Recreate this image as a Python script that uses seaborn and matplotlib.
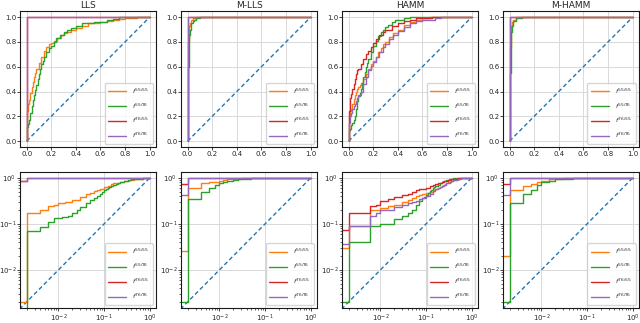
import matplotlib
matplotlib.use("Agg")
import matplotlib.pyplot as plt
import seaborn as sns

methods = ["LLS", "M-LLS", "HAMM", "M-HAMM"]
labels = [r"$f^{55/55}$", r"$f^{55/76}$", r"$f^{76/55}$", r"$f^{76/76}$"]
colors = ["C1", "C2", "C3", "C4"]

# ROC points (fpr, tpr); drawn as steps
lls_fpr_55_55 = [0, 0, 0.002, 0.004, 0.006, 0.008, 0.01, 0.014, 0.02, 0.03, 0.04, 0.05, 0.06, 0.07, 0.08, 0.1, 0.12, 0.14, 0.16, 0.18,
                 0.2, 0.22, 0.25, 0.28, 0.3, 0.33, 0.36, 0.4, 0.45, 0.5, 0.55, 0.6, 0.65, 0.7, 0.75, 0.8, 0.85, 0.9, 1.0]
lls_tpr_55_55 = [0, 0.002, 0.17, 0.2, 0.245, 0.265, 0.28, 0.3, 0.33, 0.39, 0.44, 0.48, 0.52, 0.55, 0.58, 0.63, 0.68, 0.73, 0.76, 0.78,
                 0.79, 0.81, 0.83, 0.86, 0.87, 0.88, 0.9, 0.91, 0.93, 0.95, 0.955, 0.96, 0.97, 0.98, 0.985, 0.99, 0.99, 1.0, 1.0]
lls_fpr_55_76 = [0, 0.002, 0.004, 0.006, 0.008, 0.012, 0.016, 0.02, 0.025, 0.03, 0.04, 0.05, 0.06, 0.07, 0.08, 0.09, 0.1, 0.11, 0.12, 0.13,
                 0.14, 0.16, 0.18, 0.2, 0.22, 0.24, 0.27, 0.3, 0.33, 0.36, 0.4, 0.45, 0.5, 0.55, 0.6, 0.65, 0.7, 0.75, 1.0]
lls_tpr_55_76 = [0, 0.07, 0.085, 0.11, 0.135, 0.14, 0.15, 0.17, 0.2, 0.23, 0.28, 0.33, 0.37, 0.41, 0.45, 0.5, 0.54, 0.58, 0.62, 0.65,
                 0.68, 0.72, 0.75, 0.77, 0.8, 0.83, 0.86, 0.88, 0.9, 0.91, 0.93, 0.95, 0.955, 0.96, 0.965, 0.975, 0.985, 1.0, 1.0]
lls_fpr_76_55 = [0, 0, 0.002, 1.0]
lls_tpr_76_55 = [0, 0.85, 1.0, 1.0]
lls_fpr_76_76 = [0, 0, 0.002, 1.0]
lls_tpr_76_76 = [0, 0.85, 1.0, 1.0]

mlls_fpr_55_55 = [0, 0, 0.002, 0.004, 0.006, 0.008, 0.01, 0.012, 0.015, 0.02, 0.025, 0.03, 0.04, 0.05, 0.07, 1.0]
mlls_tpr_55_55 = [0, 0.026, 0.6, 0.77, 0.8, 0.84, 0.87, 0.9, 0.93, 0.95, 0.97, 0.98, 0.99, 0.995, 1.0, 1.0]
mlls_fpr_55_76 = [0, 0, 0.002, 0.004, 0.006, 0.008, 0.01, 0.012, 0.015, 0.02, 0.025, 0.03, 0.04, 0.05, 0.07, 0.1, 1.0]
mlls_tpr_55_76 = [0, 0.002, 0.35, 0.5, 0.6, 0.7, 0.77, 0.82, 0.86, 0.9, 0.93, 0.95, 0.97, 0.98, 0.99, 1.0, 1.0]
mlls_fpr_76_55 = [0, 0, 0.002, 1.0]
mlls_tpr_76_55 = [0, 0.75, 1.0, 1.0]
mlls_fpr_76_76 = [0, 0, 0.002, 1.0]
mlls_tpr_76_76 = [0, 0.42, 1.0, 1.0]

hamm_fpr_55_55 = [0, 0, 0.002, 0.006, 0.01, 0.015, 0.02, 0.03, 0.04, 0.05, 0.06, 0.07, 0.08, 0.09, 0.1, 0.12, 0.14, 0.16, 0.18, 0.2,
                  0.22, 0.24, 0.26, 0.28, 0.3, 0.33, 0.36, 0.4, 0.45, 0.5, 0.55, 0.6, 0.65, 1.0]
hamm_tpr_55_55 = [0, 0.03, 0.09, 0.2, 0.22, 0.24, 0.26, 0.3, 0.34, 0.37, 0.4, 0.42, 0.44, 0.45, 0.47, 0.5, 0.54, 0.58, 0.62, 0.65,
                  0.68, 0.72, 0.75, 0.78, 0.8, 0.84, 0.87, 0.9, 0.94, 0.96, 0.98, 0.99, 1.0, 1.0]
hamm_fpr_55_76 = [0, 0, 0.002, 0.006, 0.01, 0.02, 0.03, 0.04, 0.05, 0.06, 0.07, 0.08, 0.09, 0.1, 0.11, 0.12, 0.13, 0.14, 0.15, 0.16,
                  0.18, 0.2, 0.22, 0.24, 0.26, 0.28, 0.3, 0.32, 0.35, 0.38, 0.4, 0.45, 0.5, 1.0]
hamm_tpr_55_76 = [0, 0.002, 0.04, 0.09, 0.1, 0.13, 0.15, 0.17, 0.2, 0.26, 0.32, 0.36, 0.39, 0.42, 0.47, 0.52, 0.56, 0.6, 0.63, 0.66,
                  0.72, 0.77, 0.81, 0.85, 0.88, 0.9, 0.92, 0.94, 0.96, 0.975, 0.98, 0.995, 1.0, 1.0]
hamm_fpr_76_55 = [0, 0, 0.002, 0.006, 0.008, 0.01, 0.015, 0.02, 0.03, 0.04, 0.05, 0.06, 0.07, 0.08, 0.1, 0.12, 0.14, 0.16, 0.18, 0.2,
                  0.22, 0.25, 0.28, 0.3, 0.35, 0.4, 0.45, 0.5, 0.55, 0.6, 0.68, 1.0]
hamm_tpr_76_55 = [0, 0.072, 0.17, 0.24, 0.26, 0.32, 0.35, 0.38, 0.42, 0.46, 0.5, 0.54, 0.57, 0.58, 0.62, 0.66, 0.7, 0.73, 0.76, 0.79,
                  0.82, 0.86, 0.88, 0.9, 0.93, 0.95, 0.97, 0.98, 0.99, 0.995, 1.0, 1.0]
hamm_fpr_76_76 = [0, 0, 0.002, 0.006, 0.008, 0.01, 0.02, 0.03, 0.04, 0.05, 0.06, 0.07, 0.08, 0.1, 0.12, 0.14, 0.16, 0.18, 0.2, 0.22,
                  0.25, 0.28, 0.3, 0.33, 0.36, 0.4, 0.45, 0.5, 0.55, 0.6, 0.7, 0.75, 1.0]
hamm_tpr_76_76 = [0, 0.037, 0.09, 0.15, 0.17, 0.2, 0.23, 0.26, 0.28, 0.3, 0.32, 0.35, 0.37, 0.4, 0.46, 0.52, 0.57, 0.61, 0.64, 0.68,
                  0.72, 0.76, 0.78, 0.82, 0.86, 0.89, 0.92, 0.95, 0.97, 0.98, 0.99, 1.0, 1.0]

mhamm_fpr_55_55 = [0, 0, 0.002, 0.004, 0.006, 0.008, 0.01, 0.015, 0.02, 0.03, 0.05, 1.0]
mhamm_tpr_55_55 = [0, 0.02, 0.55, 0.68, 0.75, 0.82, 0.87, 0.93, 0.96, 0.98, 1.0, 1.0]
mhamm_fpr_55_76 = [0, 0, 0.002, 0.004, 0.006, 0.008, 0.01, 0.015, 0.02, 0.03, 0.05, 0.1, 1.0]
mhamm_tpr_55_76 = [0, 0.002, 0.29, 0.45, 0.55, 0.7, 0.8, 0.88, 0.93, 0.97, 0.99, 1.0, 1.0]
mhamm_fpr_76_55 = [0, 0, 0.002, 1.0]
mhamm_tpr_76_55 = [0, 0.75, 1.0, 1.0]
mhamm_fpr_76_76 = [0, 0, 0.002, 1.0]
mhamm_tpr_76_76 = [0, 0.42, 1.0, 1.0]

curves = {
    "LLS": [(lls_fpr_55_55, lls_tpr_55_55), (lls_fpr_55_76, lls_tpr_55_76),
            (lls_fpr_76_55, lls_tpr_76_55), (lls_fpr_76_76, lls_tpr_76_76)],
    "M-LLS": [(mlls_fpr_55_55, mlls_tpr_55_55), (mlls_fpr_55_76, mlls_tpr_55_76),
              (mlls_fpr_76_55, mlls_tpr_76_55), (mlls_fpr_76_76, mlls_tpr_76_76)],
    "HAMM": [(hamm_fpr_55_55, hamm_tpr_55_55), (hamm_fpr_55_76, hamm_tpr_55_76),
             (hamm_fpr_76_55, hamm_tpr_76_55), (hamm_fpr_76_76, hamm_tpr_76_76)],
    "M-HAMM": [(mhamm_fpr_55_55, mhamm_tpr_55_55), (mhamm_fpr_55_76, mhamm_tpr_55_76),
               (mhamm_fpr_76_55, mhamm_tpr_76_55), (mhamm_fpr_76_76, mhamm_tpr_76_76)],
}

sns.set_style("ticks", {"axes.grid": True, "grid.color": ".85", "axes.edgecolor": ".1"})

fig, axes = plt.subplots(2, 4, figsize=(6.4, 3.23), dpi=100)

for col, name in enumerate(methods):
    for row in range(2):
        ax = axes[row, col]
        # chance line
        sns.lineplot(x=[0, 1], y=[0, 1], ax=ax, color="C0", linestyle=(0, (3, 2)), lw=1)
        for (fpr, tpr), lab, c in zip(curves[name], labels, colors):
            sns.lineplot(x=fpr, y=tpr, ax=ax, color=c, label=lab, estimator=None,
                         sort=False, drawstyle="steps-post", lw=1)
        if row == 1:
            ax.set_xscale("log")
            ax.set_yscale("log")
            ax.tick_params(which="minor", length=1.5, width=0.5)
        else:
            ax.set_title(name, fontsize=6.5, pad=2)
        ax.tick_params(which="major", labelsize=5, length=2, width=0.6, pad=1)
        ax.grid(True, which="major", lw=0.7)
        ax.grid(False, which="minor")
        ax.legend(loc="lower right", fontsize=4.5, handlelength=2.8, labelspacing=0.9,
                  borderpad=0.6, handletextpad=1.0, framealpha=0.8)
        for s in ax.spines.values():
            s.set_linewidth(0.8)

fig.subplots_adjust(left=0.032, right=0.998, bottom=0.046, top=0.966, wspace=0.19, hspace=0.18)
fig.savefig("out.png", dpi=100)
